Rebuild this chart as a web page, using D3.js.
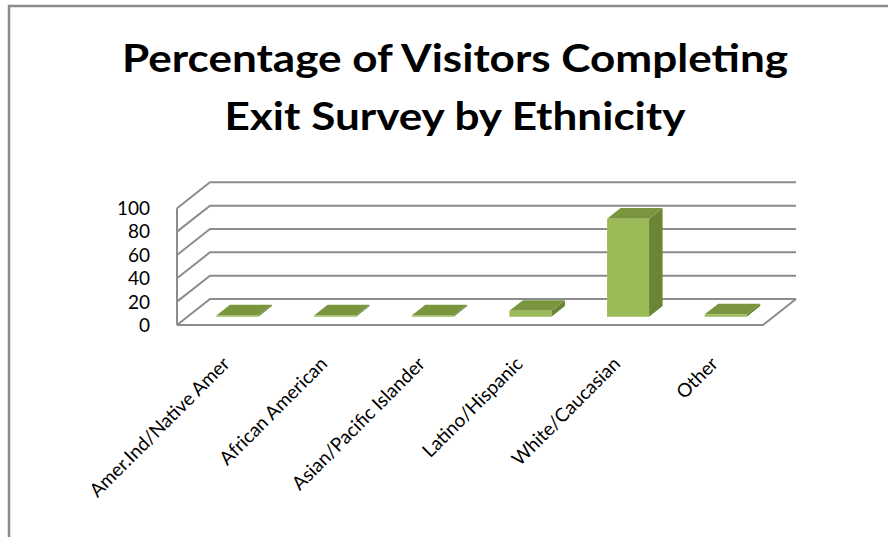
<!DOCTYPE html>
<html>
<head>
<meta charset="utf-8">
<script src="https://cdn.jsdelivr.net/npm/d3@7"></script>
<style>
  html, body { margin: 0; padding: 0; background: #fff; }
  svg { display: block; }
</style>
</head>
<body>
<svg id="chart" width="888" height="537"></svg>
<script>
// ---- data ----
const titleLines = ["Percentage of Visitors Completing", "Exit Survey by Ethnicity"];
const categories = ["Amer.Ind/Native Amer", "African American", "Asian/Pacific Islander",
                    "Latino/Hispanic", "White/Caucasian", "Other"];
const values = [1, 1, 1, 5, 84, 2];
const yTicks = [0, 20, 40, 60, 80, 100];

// ---- layout ----
const W = 888, H = 537;
const frontLeft = 177, frontRight = 763, floorY = 325, plotH = 116.7;
const depthDX = 33, depthDY = -26;
const barD0 = 0.32, barD1 = 0.73, barFrac = 0.43;

const svg = d3.select("#chart");
const FONT = "Lato, 'Open Sans', 'DejaVu Sans', sans-serif";

const x = d3.scaleBand().domain(categories).range([frontLeft, frontRight]).padding(0);
const y = d3.scaleLinear().domain([0, 100]).range([floorY, floorY - plotH]);

// projection: base x, value, depth
const P = (bx, v, d) => [bx + depthDX * d, y(v) + depthDY * d];
const pts = arr => arr.map(p => p.join(",")).join(" ");

// frame
svg.append("rect").attr("x", 9).attr("y", 6).attr("width", W + 20).attr("height", H + 20)
  .attr("fill", "none").attr("stroke", "#8c8c8c").attr("stroke-width", 2.5);

// title
const title = svg.append("g");
titleLines.forEach((t, i) => {
  title.append("text")
    .attr("x", 455).attr("y", 72 + i * 58)
    .attr("text-anchor", "middle")
    .attr("font-family", FONT).attr("font-weight", "bold")
    .attr("font-size", 39)
    .attr("fill", "#000")
    .text(t);
});
(function () {
  const nodes = title.selectAll("text").nodes();
  const k = 666 / nodes[0].getComputedTextLength();
  nodes.forEach(n => {
    const w = n.getComputedTextLength();
    d3.select(n).attr("textLength", w * k).attr("lengthAdjust", "spacingAndGlyphs");
  });
})();

const gridColor = "#8c8c8c";
const grid = svg.append("g").attr("stroke", gridColor).attr("stroke-width", 2).attr("fill", "none");

// gridlines: left wall diagonal + back wall horizontal
yTicks.forEach(v => {
  grid.append("polyline").attr("points",
    pts([P(frontLeft, v, 0), P(frontLeft, v, 1), P(frontRight, v, 1)]));
});
// left wall front vertical
grid.append("line")
  .attr("x1", frontLeft).attr("y1", y(0)).attr("x2", frontLeft).attr("y2", y(100));
// floor front edge and right edge
grid.append("polyline").attr("points",
  pts([P(frontLeft, 0, 0), P(frontRight, 0, 0), P(frontRight, 0, 1)]));

// y tick labels
svg.append("g").selectAll("text").data(yTicks).join("text")
  .attr("x", 150).attr("y", d => y(d))
  .attr("dy", "0.36em")
  .attr("text-anchor", "end")
  .attr("font-family", FONT).attr("font-size", 19)
  .attr("fill", "#000")
  .text(d => d);

// bars
const bars = svg.append("g");
const bw = x.bandwidth() * barFrac;
categories.forEach((c, i) => {
  const v = values[i];
  const x0 = x(c) + (x.bandwidth() - bw) / 2 + 1;
  const x1 = x0 + bw;
  bars.append("polygon").attr("fill", "#6a8535")
    .attr("points", pts([P(x1, 0, barD0), P(x1, v, barD0), P(x1, v, barD1), P(x1, 0, barD1)]));
  bars.append("polygon").attr("fill", "#79963f")
    .attr("points", pts([P(x0, v, barD0), P(x1, v, barD0), P(x1, v, barD1), P(x0, v, barD1)]));
  bars.append("polygon").attr("fill", "#9bbb59")
    .attr("points", pts([P(x0, 0, barD0), P(x1, 0, barD0), P(x1, v, barD0), P(x0, v, barD0)]));
});

// category labels (rotated -45°, anchored at end)
svg.append("g").selectAll("text").data(categories).join("text")
  .attr("transform", d => `translate(${x(d) + x.bandwidth() / 2 + 5},365) rotate(-45)`)
  .attr("text-anchor", "end")
  .attr("font-family", FONT).attr("font-size", 19)
  .attr("fill", "#000")
  .text(d => d);
</script>
</body>
</html>
